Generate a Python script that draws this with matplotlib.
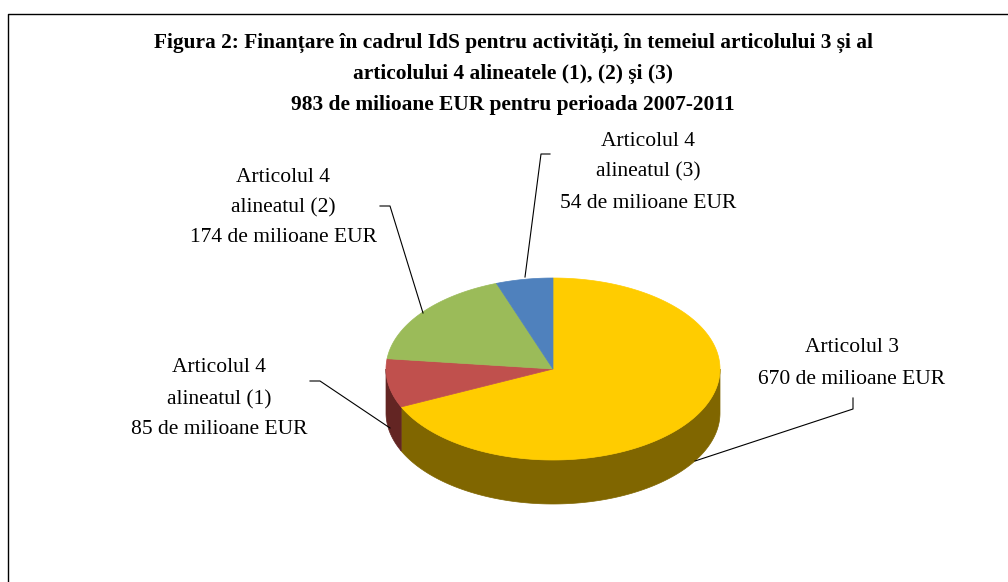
import numpy as np
import matplotlib
matplotlib.use("Agg")
import matplotlib.pyplot as plt
from matplotlib.patches import Polygon

# ---- data ----
title_lines = [
    "Figura 2: Finanțare în cadrul IdS pentru activități, în temeiul articolului 3 și al",
    "articolului 4 alineatele (1), (2) și (3)",
    "983 de milioane EUR pentru perioada 2007-2011",
]
categories = ["Articolul 3", "Articolul 4\nalineatul (1)", "Articolul 4\nalineatul (2)", "Articolul 4\nalineatul (3)"]
values = [670, 85, 174, 54]
unit = "de milioane EUR"
top_colors = ["#FFCC00", "#C0504D", "#9BBB59", "#4F81BD"]
side_colors = ["#806600", "#632523", "#4E5E2C", "#28415F"]

# ---- layout (pixel coordinates) ----
W, H = 1008, 582
fig = plt.figure(figsize=(W / 100, H / 100), dpi=100)
ax = fig.add_axes([0, 0, 1, 1])
ax.set_xlim(0, W)
ax.set_ylim(H, 0)
ax.axis("off")

cx, cy, rx, ry, depth = 553, 369, 167, 91, 44

def pt(theta_deg, dy=0.0):
    t = np.radians(theta_deg)
    return cx + rx * np.sin(t), cy - ry * np.cos(t) + dy

total = float(sum(values))
bounds = np.concatenate([[0.0], np.cumsum(values) / total * 360.0])

# side walls (front visible half: 90..270 degrees clockwise from top)
for i in range(len(values)):
    a0, a1 = max(bounds[i], 90.0), min(bounds[i + 1], 270.0)
    if a1 <= a0:
        continue
    th = np.linspace(a0, a1, 200)
    xs, ys = pt(th)
    xb, yb = pt(th[::-1], depth)
    poly = np.column_stack([np.concatenate([xs, xb]), np.concatenate([ys, yb])])
    ax.add_patch(Polygon(poly, closed=True, facecolor=side_colors[i],
                         edgecolor=side_colors[i], lw=0.5, zorder=1))

# top faces
for i in range(len(values)):
    th = np.linspace(bounds[i], bounds[i + 1], 300)
    xs, ys = pt(th)
    poly = np.column_stack([np.concatenate([[cx], xs]), np.concatenate([[cy], ys])])
    ax.add_patch(Polygon(poly, closed=True, facecolor=top_colors[i],
                         edgecolor=top_colors[i], lw=0.5, zorder=2))

# frame
ax.plot([8, 8, W], [H, 14, 14], color="black", lw=1.0, zorder=5, solid_capstyle="butt")

# title
title_y = [43, 74, 105]
for line, y in zip(title_lines, title_y):
    ax.text(513, y, line, ha="center", va="center", fontsize=15.4, fontweight="bold",
            family="Liberation Serif", color="black")

# labels
label_pos = [(852, [348, 380]), (219, [368, 400, 430]), (283, [177, 208, 238]), (648, [142, 172, 203])]
for cat, val, (lx, ys) in zip(categories, values, label_pos):
    lines = cat.split("\n") + [f"{val} {unit}"]
    for line, y in zip(lines, ys):
        ax.text(lx, y, line, ha="center", va="center", fontsize=15.5,
                family="Liberation Serif", color="black")

# leader lines
leaders = [
    [(853, 398), (853, 409), (695, 461)],
    [(310, 381), (320, 381), (390, 428)],
    [(380, 206), (390, 206), (423, 313)],
    [(550, 154), (541, 154), (525, 277)],
]
for seg in leaders:
    xs, ys = zip(*seg)
    ax.plot(xs, ys, color="black", lw=0.8, zorder=4)

fig.savefig("out.png", dpi=100)
